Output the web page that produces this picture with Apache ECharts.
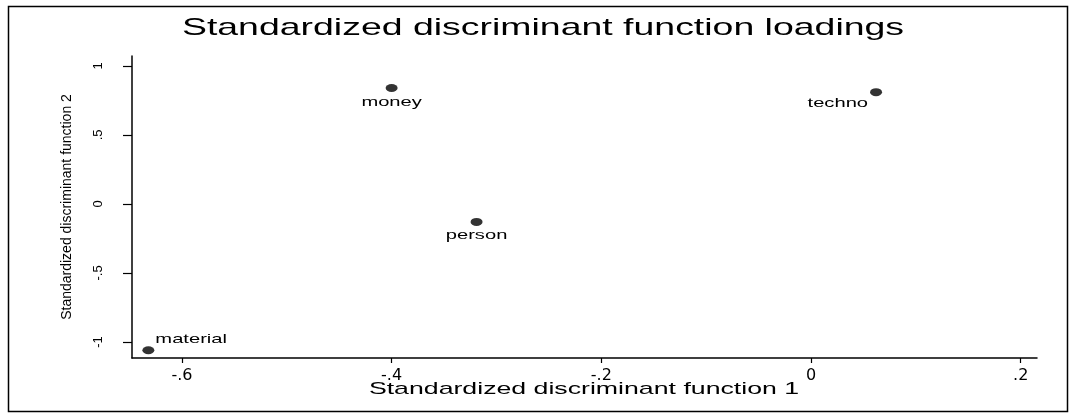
<!DOCTYPE html>
<html>
<head>
<meta charset="utf-8">
<title>Standardized discriminant function loadings</title>
<script src="https://cdn.jsdelivr.net/npm/echarts@6/dist/echarts.min.js"></script>
<style>
  html, body { margin: 0; padding: 0; background: #fff; }
  #chart { width: 1075px; height: 419px; }
</style>
</head>
<body>
<div id="chart"></div>
<script>
// loadings
const variables = ['material', 'money', 'person', 'techno'];
const function1 = [-0.632, -0.400, -0.319, 0.062];
const function2 = [-1.06, 0.84, -0.13, 0.81];

// axis ticks
const xTicks = [-0.6, -0.4, -0.2, 0, 0.2];
const xTickLabels = ['-.6', '-.4', '-.2', '0', '.2'];
const yTicks = [-1, -0.5, 0, 0.5, 1];
const yTickLabels = ['-1', '-.5', '0', '.5', '1'];

// where each marker label sits relative to its point (stata clock style)
const labelPlacement = {
  material: { dx: 7, dy: -11, align: 'left' },
  money: { dx: 0, dy: 14, align: 'center' },
  person: { dx: 0, dy: 14, align: 'center' },
  techno: { dx: -8, dy: 11, align: 'right' }
};

const pickLabel = (ticks, labels) => (v) => {
  const i = ticks.findIndex((t) => Math.abs(t - v) < 1e-9);
  return i >= 0 ? labels[i] : '';
};

const points = variables.map((name, i) => ({ name: name, value: [function1[i], function2[i]] }));

const chart = echarts.init(document.getElementById('chart'));

const option = {
  animation: false,
  backgroundColor: '#fff',
  grid: { left: 132, right: 38, top: 56, bottom: 61 },
  xAxis: {
    type: 'value',
    min: -0.6476,
    max: 0.2155,
    splitLine: { show: false },
    axisLine: { show: true, onZero: false, lineStyle: { color: '#000', width: 1.5 } },
    axisTick: { show: true, customValues: xTicks, length: 5, lineStyle: { color: '#000', width: 1.2 } },
    axisLabel: {
      customValues: xTicks,
      formatter: pickLabel(xTicks, xTickLabels),
      color: '#000',
      fontFamily: 'DejaVu Sans',
      fontSize: 16,
      margin: 10
    }
  },
  yAxis: {
    type: 'value',
    min: -1.116,
    max: 1.072,
    name: 'Standardized discriminant function 2',
    nameLocation: 'middle',
    nameRotate: 90,
    nameGap: 58,
    nameTextStyle: { color: '#000', fontFamily: 'Liberation Sans', fontSize: 14 },
    splitLine: { show: false },
    axisLine: { show: true, onZero: false, lineStyle: { color: '#000', width: 1.5 } },
    axisTick: { show: true, customValues: yTicks, length: 9, lineStyle: { color: '#000', width: 1.2 } },
    axisLabel: {
      customValues: yTicks,
      formatter: pickLabel(yTicks, yTickLabels),
      rotate: 90,
      color: '#000',
      fontFamily: 'Liberation Sans',
      fontSize: 13,
      margin: 27
    }
  },
  graphic: [
    {
      type: 'rect',
      shape: { x: 8.5, y: 6.5, width: 1059, height: 405 },
      style: { fill: 'none', stroke: '#000', lineWidth: 1.5 },
      silent: true
    },
    {
      type: 'text',
      x: 543,
      y: 28,
      scaleX: 1.56,
      style: {
        text: 'Standardized discriminant function loadings',
        font: '24px "Liberation Sans"',
        fill: '#000',
        align: 'center',
        verticalAlign: 'middle'
      }
    },
    {
      type: 'text',
      x: 584,
      y: 389,
      scaleX: 1.57,
      style: {
        text: 'Standardized discriminant function 1',
        font: '17px "Liberation Sans"',
        fill: '#000',
        align: 'center',
        verticalAlign: 'middle'
      }
    }
  ],
  series: [
    {
      type: 'scatter',
      data: points,
      symbol: 'circle',
      symbolSize: [12, 8],
      itemStyle: { color: '#000' }
    },
    {
      // marker labels, stretched wide like the original
      type: 'custom',
      data: points,
      silent: true,
      renderItem: function (params, api) {
        const name = variables[params.dataIndex];
        const place = labelPlacement[name];
        const p = api.coord([api.value(0), api.value(1)]);
        return {
          type: 'text',
          x: p[0] + place.dx,
          y: p[1] + place.dy,
          scaleX: 1.55,
          style: {
            text: name,
            font: '13px "Liberation Sans"',
            fill: '#000',
            align: place.align,
            verticalAlign: 'middle'
          }
        };
      }
    }
  ]
};

chart.setOption(option);
</script>
</body>
</html>
